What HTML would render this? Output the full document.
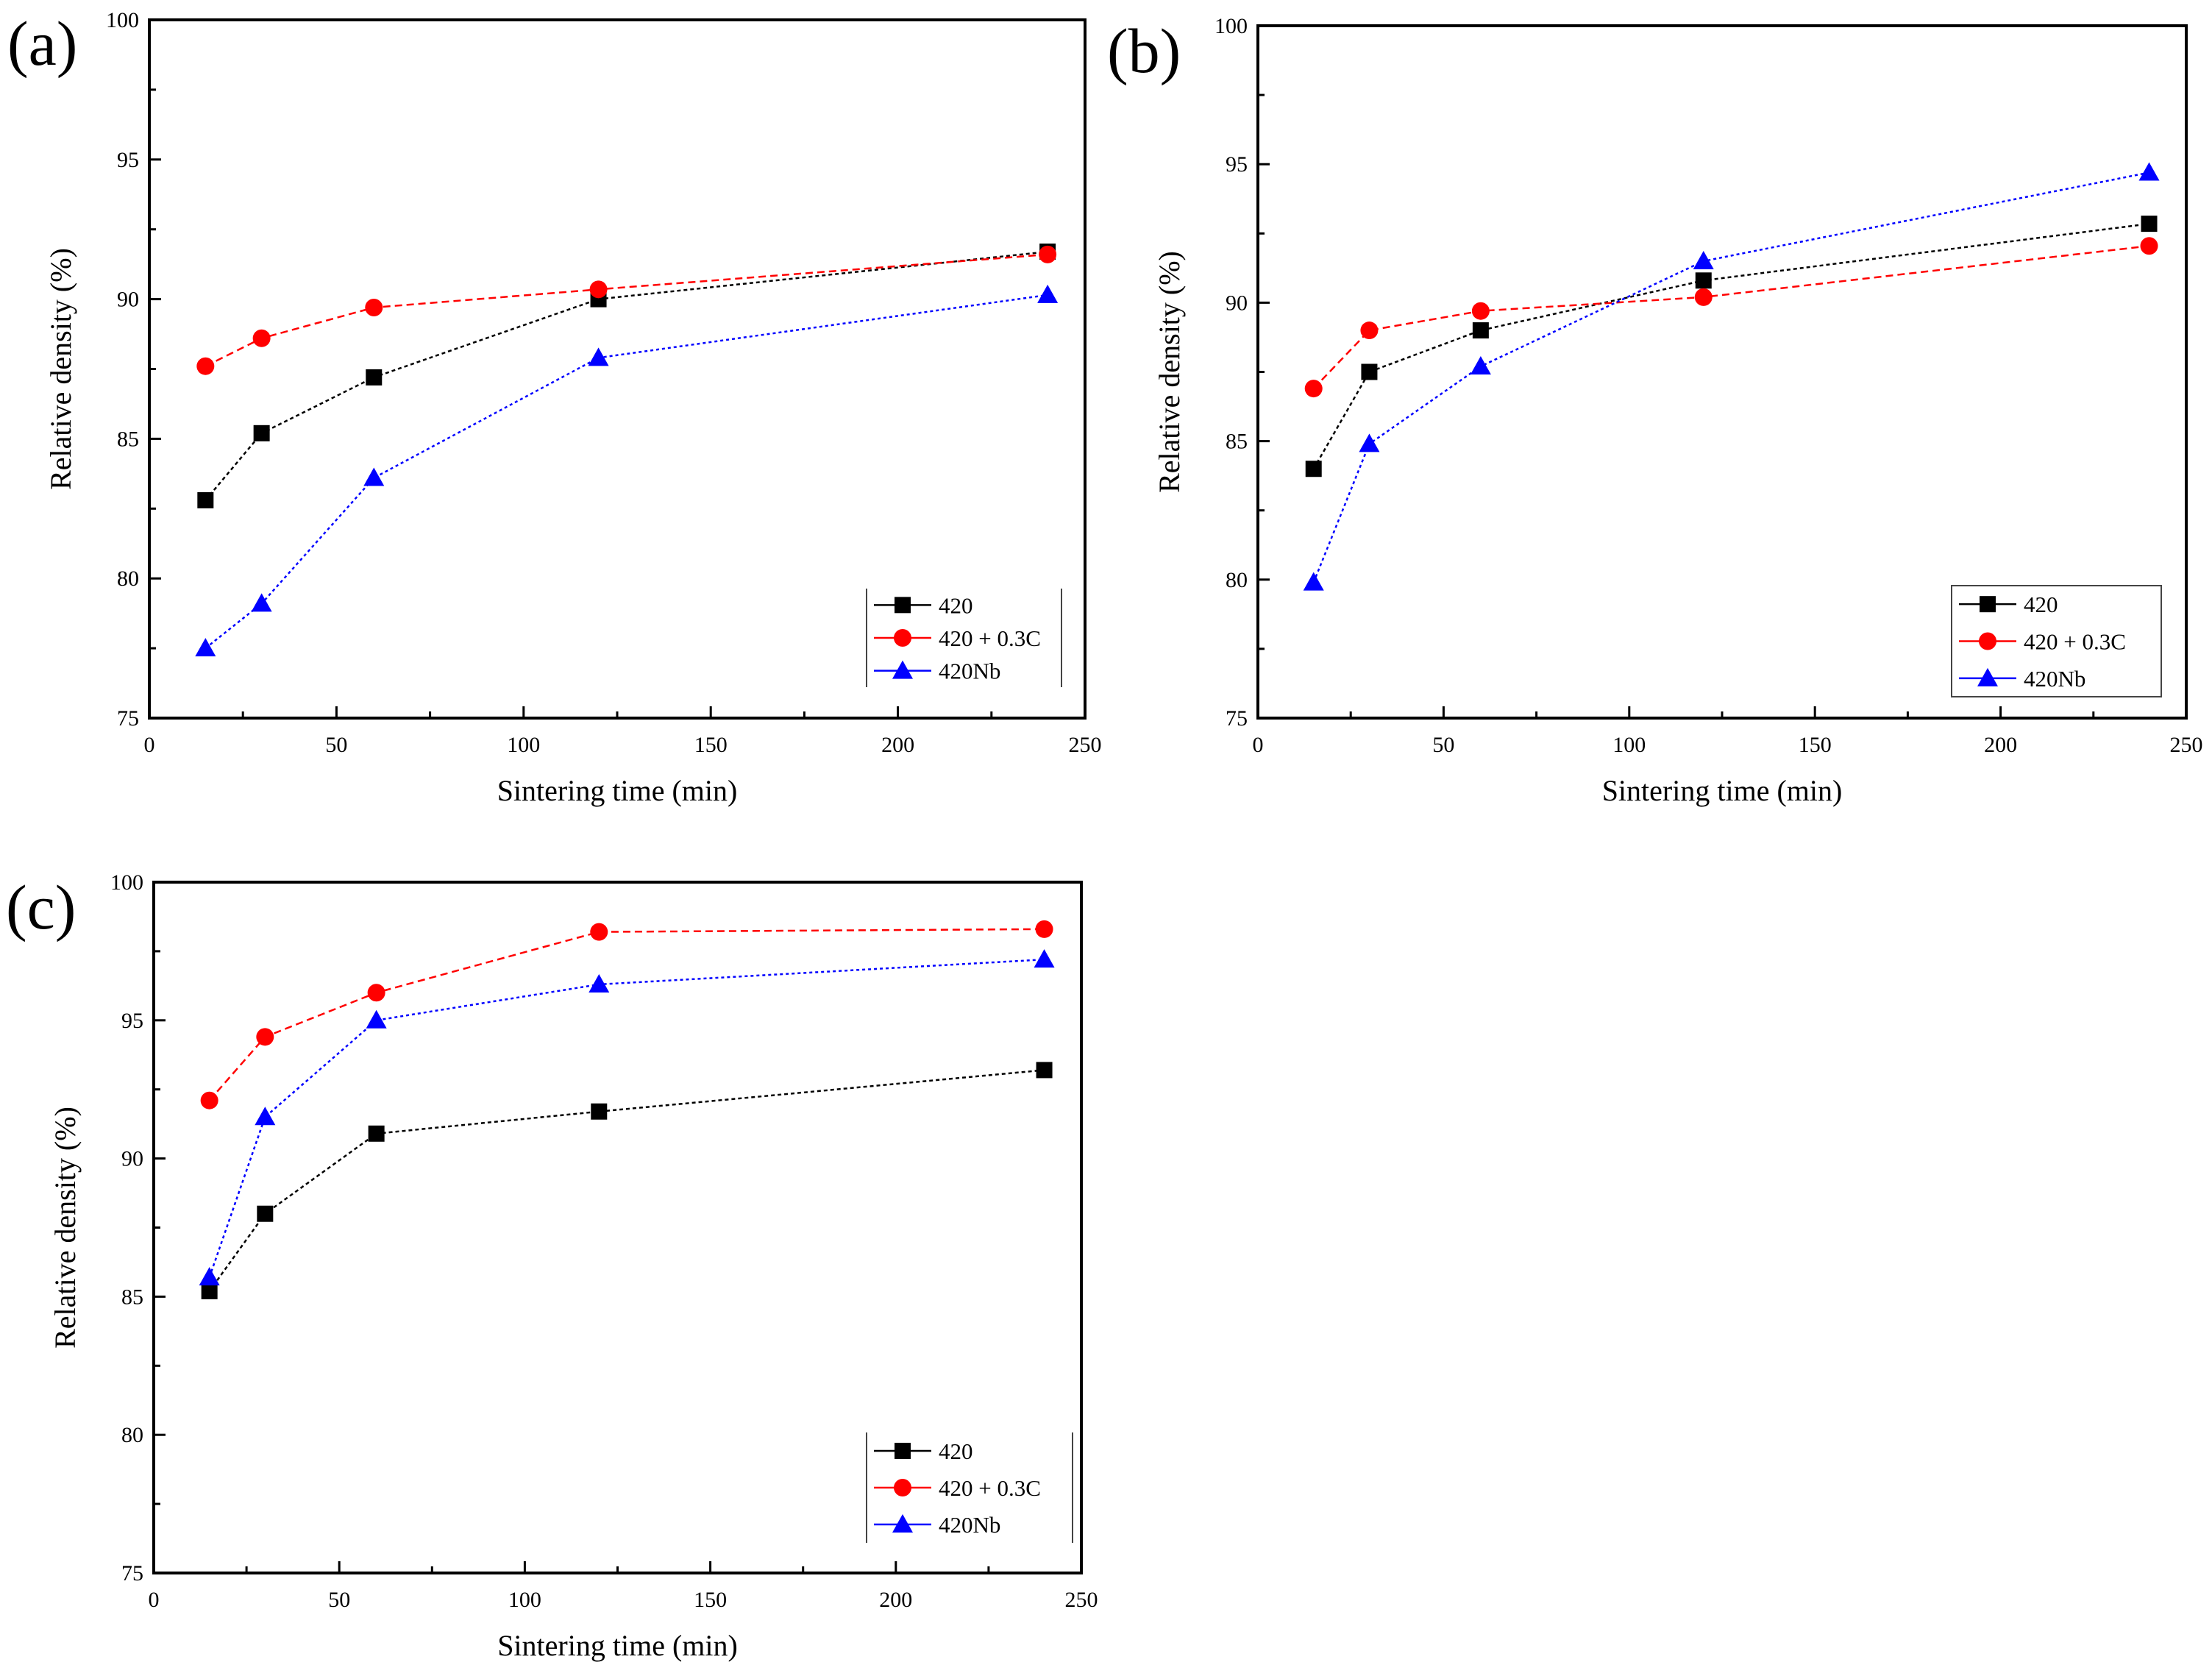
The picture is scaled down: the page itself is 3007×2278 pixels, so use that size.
<!DOCTYPE html>
<html><head><meta charset="utf-8">
<style>
html,body{margin:0;padding:0;background:#fff;}
svg{display:block;font-family:"Liberation Serif",serif;}
</style></head>
<body>
<svg id="fig" width="3007" height="2278" viewBox="0 0 3007 2278"></svg>
<script>
const xTimes = [15, 30, 60, 120, 240];
const xTickLabels = [0, 50, 100, 150, 200, 250];
const yTickLabels = [75, 80, 85, 90, 95, 100];
const seriesNames = ["420", "420 + 0.3C", "420Nb"];
const a420 = [82.8, 85.2, 87.2, 90.0, 91.7];
const a420C = [87.6, 88.6, 89.7, 90.35, 91.6];
const a420Nb = [77.5, 79.1, 83.6, 87.9, 90.15];
const b420 = [84.0, 87.5, 89.0, 90.8, 92.85];
const b420C = [86.9, 89.0, 89.7, 90.2, 92.05];
const b420Nb = [79.9, 84.9, 87.7, 91.5, 94.7];
const c420 = [85.2, 88.0, 90.9, 91.7, 93.2];
const c420C = [92.1, 94.4, 96.0, 98.2, 98.3];
const c420Nb = [85.7, 91.5, 95.0, 96.3, 97.2];

const NS = "http://www.w3.org/2000/svg";
const svg = document.getElementById("fig");
function mk(tag, attrs, parent, text) {
  const e = document.createElementNS(NS, tag);
  for (const k in attrs) e.setAttribute(k, attrs[k]);
  if (text !== undefined) e.textContent = text;
  (parent || svg).appendChild(e);
  return e;
}
const colors = ["#000000", "#ff0000", "#0000ff"];
const dashes = ["5,4", "10,6", "4,4"];

function panel(id, L, R, T, B, data, legend, letter, lx, ly) {
  const g = mk("g", {}, svg);
  
  
  const xs = v => L + (v - 0) / 250 * (R - L);
  const ys = v => B - (v - 75) / 25 * (B - T);
  const lab = mk("text", {x: lx, y: ly, "font-size": 86}, g, "(" + id + ")");
  
  
  const fr = mk("rect", {x: L, y: T, width: R - L, height: B - T, fill: "none", stroke: "#000", "stroke-width": 4}, g);
  
  
  for (let v = 0; v <= 250; v += 25) {
    const major = v % 50 === 0;
    const t = mk("line", {x1: xs(v), x2: xs(v), y1: B, y2: B - (major ? 16 : 9), stroke: "#000", "stroke-width": 3}, g);
    
    
  }
  xTickLabels.forEach(v => {
    const t = mk("text", {x: xs(v), y: B + 46, "font-size": 30, "text-anchor": "middle"}, g, v);
    
    
  });
  for (let v = 75; v <= 100; v += 2.5) {
    const major = v % 5 === 0;
    const t = mk("line", {x1: L, x2: L + (major ? 16 : 9), y1: ys(v), y2: ys(v), stroke: "#000", "stroke-width": 3}, g);
    
    
  }
  yTickLabels.forEach(v => {
    const t = mk("text", {x: L - 14, y: ys(v) + 10, "font-size": 30, "text-anchor": "end"}, g, v);
    
    
  });
  const xt = mk("text", {x: (L + R) / 2, y: B + 112, "font-size": 40, "text-anchor": "middle"}, g, "Sintering time (min)");
  
  
  const ycx = L - 107, ycy = (T + B) / 2;
  const yt = mk("text", {x: ycx, y: ycy, "font-size": 40, "text-anchor": "middle", transform: "rotate(-90 " + ycx + " " + ycy + ")"}, g, "Relative density (%)");
  
  

  data.forEach((vals, si) => {
    const pts = vals.map((v, i) => xs(xTimes[i]) + "," + ys(v)).join(" ");
    const pl = mk("polyline", {points: pts, fill: "none", stroke: colors[si], "stroke-width": 2.5, "stroke-dasharray": dashes[si]}, g);
    
    
    vals.forEach((v, i) => {
      const m = marker(g, si, xs(xTimes[i]), ys(v));
      
      
    });
  });

  // legend
  const lg = mk("g", {}, g);
  
  
  const [x0, y0, x1, y1, box] = legend;
  if (box) {
    mk("rect", {x: x0, y: y0, width: x1 - x0, height: y1 - y0, fill: "none", stroke: "#444", "stroke-width": 2}, lg);
  } else {
    mk("line", {x1: x0, x2: x0, y1: y0, y2: y1, stroke: "#444", "stroke-width": 2}, lg);
    mk("line", {x1: x1, x2: x1, y1: y0, y2: y1, stroke: "#444", "stroke-width": 2}, lg);
  }
  const step = (y1 - y0) / 3;
  seriesNames.forEach((n, si) => {
    const cy = y0 + step * (si + 0.5);
    const e = mk("g", {}, lg);
    
    
    mk("line", {x1: x0 + 10, x2: x0 + 88, y1: cy, y2: cy, stroke: colors[si], "stroke-width": 2.5}, e);
    marker(e, si, x0 + 49, cy);
    mk("text", {x: x0 + 98, y: cy + 11, "font-size": 31}, e, n);
  });
}
function marker(parent, si, x, y) {
  if (si === 0) return mk("rect", {x: x - 11, y: y - 11, width: 22, height: 22, fill: "#000"}, parent);
  if (si === 1) return mk("circle", {cx: x, cy: y, r: 12, fill: "#ff0000"}, parent);
  return mk("polygon", {points: (x) + "," + (y - 14) + " " + (x - 14) + "," + (y + 11) + " " + (x + 14) + "," + (y + 11), fill: "#0000ff"}, parent);
}

panel("a", 203, 1475, 27, 976, [a420, a420C, a420Nb], [1178, 800, 1443, 934, false], "a", 10, 88);
panel("b", 1710, 2972, 35, 976, [b420, b420C, b420Nb], [2653, 796, 2938, 947, true], "b", 1505, 98);
panel("c", 209, 1470, 1199, 2138, [c420, c420C, c420Nb], [1178, 1947, 1458, 2097, false], "c", 8, 1262);
</script>
</body></html>
